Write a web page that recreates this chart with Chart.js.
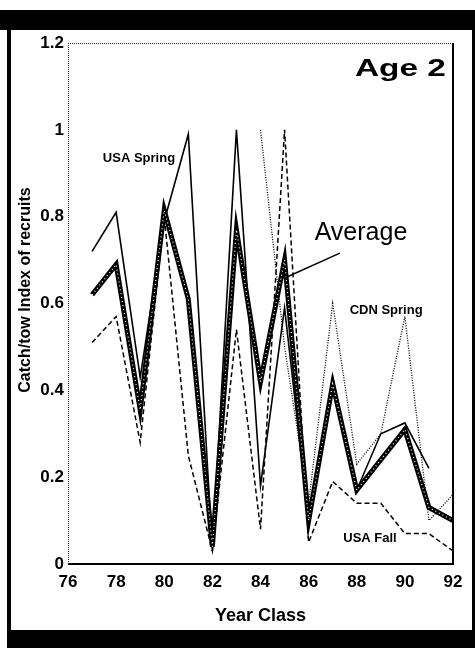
<!DOCTYPE html>
<html lang="en">
<head>
  <meta charset="UTF-8">
  <title>Age 2 - Catch/tow Index of recruits</title>
  <script src="https://cdn.jsdelivr.net/npm/chart.js"></script>
  <style>
    html, body { margin: 0; padding: 0; background: #fff; }
    canvas { display: block; }
  </style>
</head>
<body>
  <canvas id="recruitChart" width="475" height="648"></canvas>
  <script>
    // year classes and survey indices
    const yearClass = [77, 78, 79, 80, 81, 82, 83, 84, 85, 86, 87, 88, 89, 90, 91, 92];
    const usaSpring = [0.72, 0.81, 0.43, 0.79, 0.99, 0.03, 1.0, 0.18, 0.59, 0.10, 0.43, 0.17, 0.30, 0.325, 0.22, null];
    const usaFall   = [0.51, 0.57, 0.28, 0.80, 0.25, 0.03, 0.54, 0.08, 1.0, 0.05, 0.19, 0.14, 0.14, 0.07, 0.07, 0.03];
    const cdnSpring = [null, null, null, null, null, null, null, 1.0, 0.50, 0.14, 0.60, 0.23, 0.30, 0.57, 0.10, 0.16];
    const average   = [0.62, 0.69, 0.355, 0.815, 0.61, 0.04, 0.77, 0.42, 0.70, 0.10, 0.415, 0.17, 0.24, 0.31, 0.13, 0.10];

    const xTicks = [76, 78, 80, 82, 84, 86, 88, 90, 92];
    const yTicks = [0, 0.2, 0.4, 0.6, 0.8, 1.0, 1.2];

    const FONT = "'Liberation Sans', Arial, Helvetica, sans-serif";
    const pts = vals => yearClass.map((x, i) => ({ x: x, y: vals[i] }));

    // black scan frame, plot box and the hand placed labels
    const decorations = {
      id: 'decorations',
      beforeDraw(chart) {
        const c = chart.ctx;
        const w = chart.width, h = chart.height;
        c.save();
        c.fillStyle = '#fff';
        c.fillRect(0, 0, w, h);
        c.fillStyle = '#000';
        c.fillRect(0, 10, w, 20);
        c.fillRect(7, 630, w - 7, h - 630);
        c.fillRect(7, 10, 4, h - 10);
        c.fillRect(w - 3, 10, 3, h - 10);
        c.restore();
      },
      afterDatasetsDraw(chart) {
        const c = chart.ctx;
        const a = chart.chartArea;
        const xs = chart.scales.x, ys = chart.scales.y;
        c.save();
        // dotted top & left
        c.strokeStyle = '#333';
        c.lineWidth = 1;
        c.setLineDash([1, 1]);
        c.beginPath();
        c.moveTo(a.left, a.top + 0.5);
        c.lineTo(a.right, a.top + 0.5);
        c.moveTo(a.left + 0.5, a.top);
        c.lineTo(a.left + 0.5, a.bottom);
        c.stroke();
        // solid bottom & right
        c.setLineDash([]);
        c.strokeStyle = '#000';
        c.lineWidth = 2;
        c.beginPath();
        c.moveTo(a.left, a.bottom);
        c.lineTo(a.right + 1, a.bottom);
        c.moveTo(a.right, a.top);
        c.lineTo(a.right, a.bottom);
        c.stroke();

        c.fillStyle = '#000';
        c.textBaseline = 'middle';
        c.textAlign = 'center';

        c.font = 'bold 13px ' + FONT;
        c.fillText('USA Spring', xs.getPixelForValue(78.95), ys.getPixelForValue(0.935));
        c.fillText('CDN Spring', xs.getPixelForValue(89.22), ys.getPixelForValue(0.585));
        c.fillText('USA Fall', xs.getPixelForValue(88.55), ys.getPixelForValue(0.058));

        c.font = '25px ' + FONT;
        c.textAlign = 'left';
        c.fillText('Average', xs.getPixelForValue(86.25), ys.getPixelForValue(0.762));

        // leader from "Average" to the line
        c.lineWidth = 1.5;
        c.beginPath();
        c.moveTo(xs.getPixelForValue(87.3), ys.getPixelForValue(0.716));
        c.lineTo(xs.getPixelForValue(85.05), ys.getPixelForValue(0.66));
        c.stroke();

        // "Age 2", wide bold face
        c.font = 'bold 23px ' + FONT;
        c.textAlign = 'right';
        c.save();
        c.translate(xs.getPixelForValue(91.7), ys.getPixelForValue(1.138));
        c.scale(1.45, 1);
        c.fillText('Age 2', 0, 0);
        c.restore();

        // y axis title
        c.font = 'bold 16px ' + FONT;
        c.textAlign = 'center';
        c.translate(26, 290);
        c.rotate(-Math.PI / 2);
        c.fillText('Catch/tow Index of recruits', 0, 0);
        c.restore();
      }
    };

    const ctx = document.getElementById('recruitChart').getContext('2d');

    new Chart(ctx, {
      type: 'line',
      data: {
        datasets: [
          {
            label: 'Average dots',
            data: pts(average),
            borderColor: '#fff',
            borderWidth: 1.2,
            borderDash: [1, 3],
            order: 0
          },
          {
            label: 'Average',
            data: pts(average),
            borderColor: '#000',
            borderWidth: 5,
            order: 1
          },
          {
            label: 'USA Spring',
            data: pts(usaSpring),
            borderColor: '#000',
            borderWidth: 1.6,
            order: 2
          },
          {
            label: 'USA Fall',
            data: pts(usaFall),
            borderColor: '#000',
            borderWidth: 1.5,
            borderDash: [5, 3],
            order: 3
          },
          {
            label: 'CDN Spring',
            data: pts(cdnSpring),
            borderColor: '#000',
            borderWidth: 1.3,
            borderDash: [1, 1.5],
            order: 4
          }
        ]
      },
      options: {
        responsive: false,
        animation: false,
        layout: { padding: { left: 0, top: 43, right: 22, bottom: 0 } },
        elements: {
          point: { radius: 0, hoverRadius: 0 },
          line: { tension: 0, fill: false }
        },
        plugins: {
          legend: { display: false },
          tooltip: { enabled: false }
        },
        scales: {
          x: {
            type: 'linear',
            min: 76,
            max: 92,
            afterBuildTicks: s => { s.ticks = xTicks.map(v => ({ value: v })); },
            afterFit: s => { s.height = 84; },
            grid: { display: false, drawTicks: false },
            border: { display: false },
            ticks: {
              color: '#000',
              padding: 8,
              autoSkip: false,
              maxRotation: 0,
              font: { family: FONT, size: 17, weight: 'bold' }
            },
            title: {
              display: true,
              text: 'Year Class',
              color: '#000',
              font: { family: FONT, size: 18, weight: 'bold' },
              padding: { top: 0, bottom: 21 }
            }
          },
          y: {
            min: 0,
            max: 1.2,
            afterBuildTicks: s => { s.ticks = yTicks.map(v => ({ value: v })); },
            afterFit: s => { s.width = 68; },
            grid: { display: false, drawTicks: false },
            border: { display: false },
            ticks: {
              color: '#000',
              padding: 4,
              font: { family: FONT, size: 17, weight: 'bold' },
              callback: v => String(Math.round(v * 10) / 10)
            }
          }
        }
      },
      plugins: [decorations]
    });
  </script>
</body>
</html>
